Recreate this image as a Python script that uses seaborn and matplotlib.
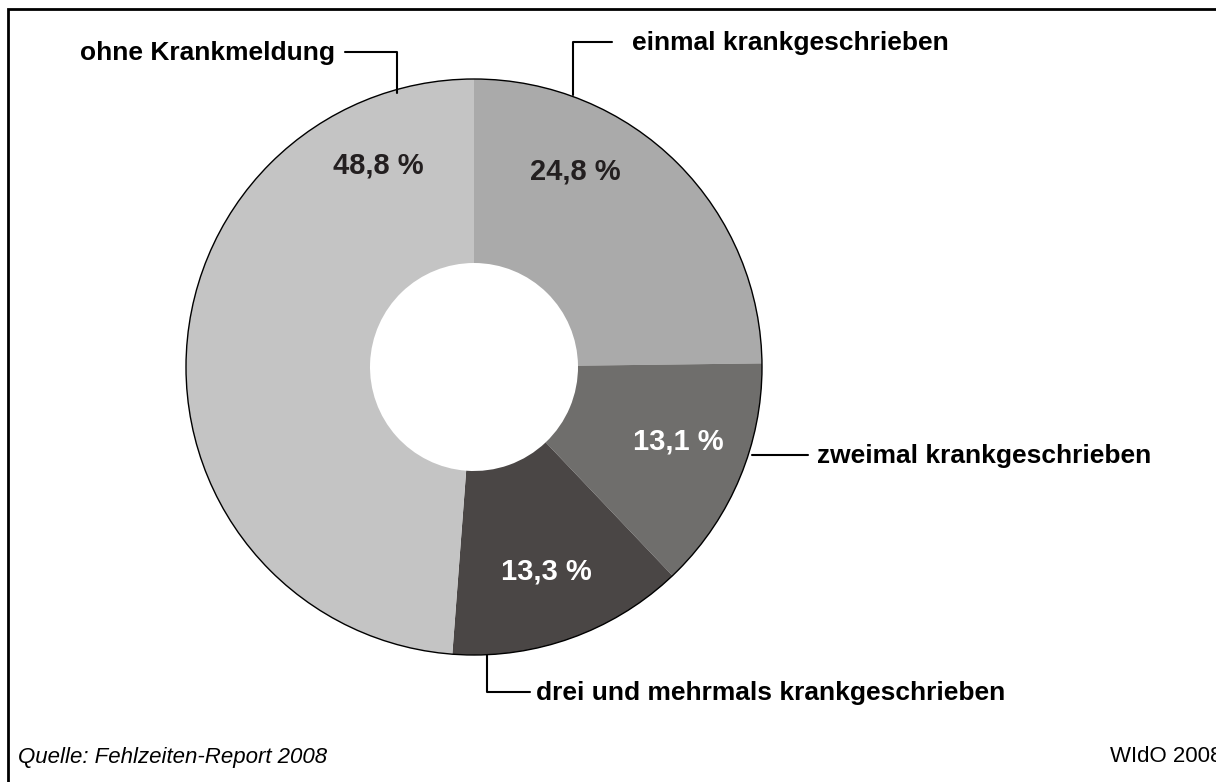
import numpy as np
import matplotlib
matplotlib.use("Agg")
import matplotlib.pyplot as plt
import seaborn as sns
from matplotlib.patches import Circle, Rectangle

# ----------------------------------------------------
# Data (clockwise from 12 o'clock)
# ----------------------------------------------------
categories = ["einmal krankgeschrieben", "zweimal krankgeschrieben",
              "drei und mehrmals krankgeschrieben", "ohne Krankmeldung"]
shares = [24.8, 13.1, 13.3, 48.8]
pct_labels = ["24,8 %", "13,1 %", "13,3 %", "48,8 %"]
source_text = "Quelle: Fehlzeiten-Report 2008"
credit_text = "WIdO 2008"

colors = ["#aaaaaa", "#6f6e6c", "#4a4645", "#c4c4c4"]
pct_colors = ["#231f20", "white", "white", "#231f20"]

sns.set_theme(style="white")
plt.rcParams['font.family'] = ['Liberation Sans', 'DejaVu Sans']

W, H = 1216, 782
fig = plt.figure(figsize=(W / 100, H / 100), dpi=100)
ax = fig.add_axes([0, 0, 1, 1])

def Y(y):
    # pixel row (from top) -> data y
    return H - y

cx, cy, r_out, r_in = 474, 367, 288, 104

ax.pie(shares, colors=colors, startangle=90, counterclock=False,
       center=(cx, Y(cy)), radius=r_out, frame=True,
       wedgeprops=dict(width=r_out - r_in, linewidth=0))
ax.add_patch(Circle((cx, Y(cy)), r_out, fill=False, edgecolor="black", lw=1.0))

ax.set_xlim(0, W)
ax.set_ylim(0, H)
ax.set_aspect("equal")
ax.axis("off")

# percentage labels inside the ring
pct_pos = [(575, 172), (678, 442), (546, 572), (378, 165)]
for (x, y), txt, c in zip(pct_pos, pct_labels, pct_colors):
    ax.text(x, Y(y), txt, ha="center", va="center", fontsize=21,
            fontweight="bold", color=c)

# leader lines + category labels
lw = 1.5
lab = dict(fontsize=19, fontweight="bold", color="black", va="center")
# einmal
ax.plot([573, 573, 612], [Y(95), Y(42), Y(42)], color="black", lw=lw)
ax.text(632, Y(43), categories[0], ha="left", **lab)
# zweimal
ax.plot([752, 808], [Y(455), Y(455)], color="black", lw=lw)
ax.text(817, Y(456), categories[1], ha="left", **lab)
# drei und mehr
ax.plot([487, 487, 530], [Y(655), Y(692), Y(692)], color="black", lw=lw)
ax.text(536, Y(693), categories[2], ha="left", **lab)
# ohne
ax.plot([345, 397, 397], [Y(52), Y(52), Y(93)], color="black", lw=lw)
ax.text(335, Y(53), categories[3], ha="right", **lab)

# footer (the credit runs off the right edge, as in the source)
ax.text(18, Y(757), source_text, ha="left", va="center", fontsize=16,
        style="italic", color="black")
ax.text(1110, Y(757), credit_text, ha="left", va="center", fontsize=16, color="black")

# outer frame (right/bottom edges cut off in the source)
ax.add_patch(Rectangle((8, Y(800)), 1230, 800 - 9, fill=False,
                       edgecolor="black", lw=2, clip_on=False))

fig.savefig("out.png", dpi=100)
